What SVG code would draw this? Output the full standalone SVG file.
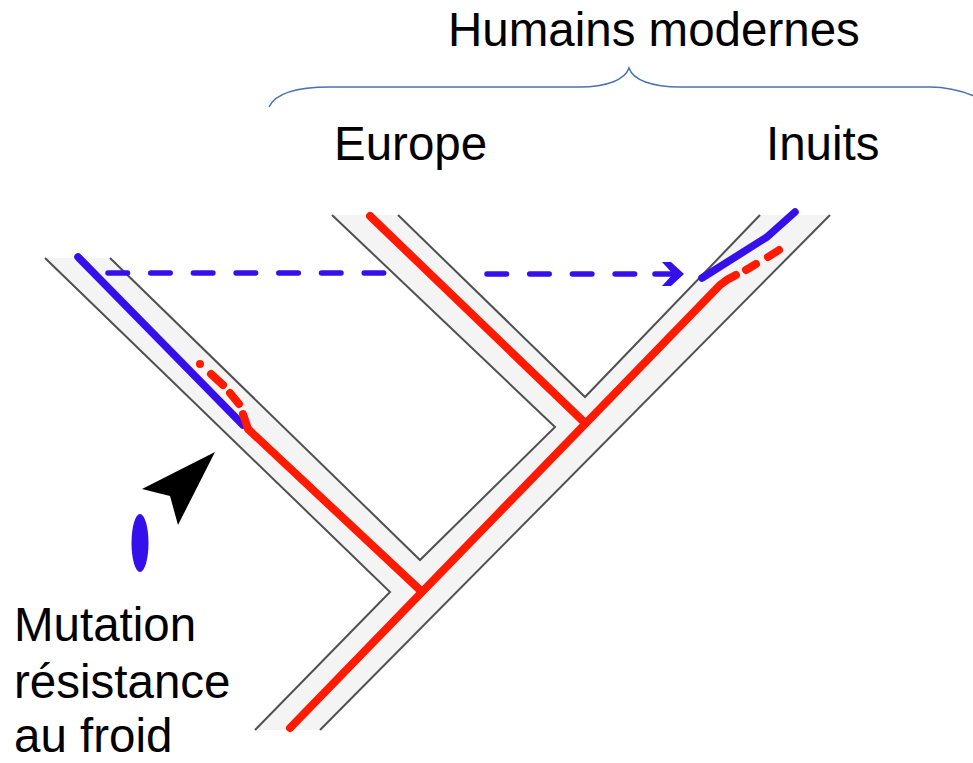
<svg xmlns="http://www.w3.org/2000/svg" width="973" height="763" viewBox="0 0 973 763">
<style>
.lbl{font-family:"Liberation Sans",Arial,sans-serif;font-size:47.5px;fill:#000}
.out{fill:none;stroke:#505050;stroke-width:2;stroke-linejoin:miter}
.red{fill:none;stroke:#ff1a00;stroke-width:8;stroke-linecap:round;stroke-linejoin:round}
.blue{fill:none;stroke:#3510ea;stroke-width:7.5;stroke-linecap:round;stroke-linejoin:round}
.dash{fill:none;stroke:#3510ea;stroke-width:5.5;stroke-linecap:round;stroke-dasharray:19.5 23.2}
</style>
<rect width="973" height="763" fill="#fff"/>
<g id="tree">
<polygon points="255,730 390,592 45,258 110,258 420,560 555,427 332,215 398,215 585,397 760,215 830,215 320,730" fill="#f4f4f4"/>
<polyline class="out" points="255,730 390,592 45,258"/>
<polyline class="out" points="110,258 420,560 555,427 332,215"/>
<polyline class="out" points="398,215 585,397 760,215"/>
<line class="out" x1="830" y1="215" x2="320" y2="730"/>
</g>
<g id="connectors">
<path class="dash" d="M108,273 L388,273"/>
<path class="dash" d="M487,274 L642,274"/>
<line x1="655" y1="274" x2="675" y2="274" stroke="#3510ea" stroke-width="5.5" stroke-linecap="round"/>
<polygon points="662,262 671,262 684,274 671,286 662,286 673,274" fill="#3510ea"/>
</g>
<g id="lineages">
<path class="blue" d="M78,257 L243,425"/>
<path class="blue" d="M702,278 L767,237 L795,212"/>
<path class="red" d="M290,728 L720,285 Q727,279 736,275"/>
<path class="red" d="M370,216 L585,423"/>
<path class="red" d="M243,414 L248,429 L420,590"/>
<circle cx="200" cy="364" r="4" fill="#ff1a00"/>
<path class="red" d="M211,374 L223,385"/>
<path class="red" d="M230,393 L239,404"/>
<path class="red" d="M746,270 L756,264"/>
<path class="red" d="M768,257 L779,250"/>
</g>
<g id="mutation">
<polygon points="215,452 142,489 170,496 178,525" fill="#000"/>
<ellipse cx="140" cy="543" rx="8.5" ry="29" fill="#3510ea"/>
</g>
<g id="brace">
<path d="M269,107 C276,92 300,87 330,87 L580,87 C606,87 625,80 629,68 C633,80 652,87 680,87 L930,87 C955,87 975,95 992,105" fill="none" stroke="#4a72b0" stroke-width="1.5"/>
</g>
<g id="labels">
<text class="lbl" x="448" y="46">Humains modernes</text>
<text class="lbl" x="334" y="160">Europe</text>
<text class="lbl" x="766" y="160">Inuits</text>
<text class="lbl" x="14" y="641">Mutation</text>
<text class="lbl" x="14" y="698">résistance</text>
<text class="lbl" x="14" y="752">au froid</text>
</g>
</svg>
